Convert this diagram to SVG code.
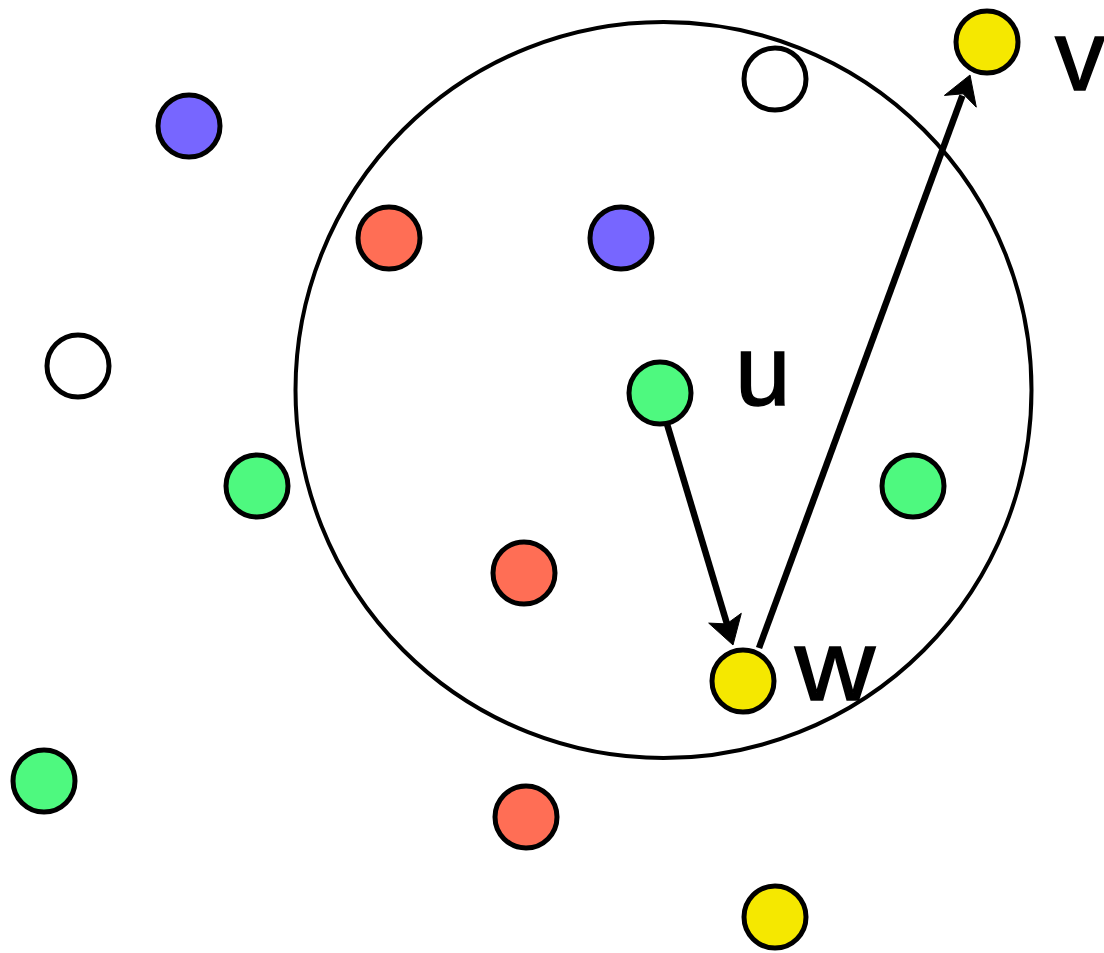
<svg xmlns="http://www.w3.org/2000/svg" width="1104" height="953" viewBox="0 0 1104 953">
<style>
.n{stroke:#000;stroke-width:5}
.g{fill:#4ef97f}.r{fill:#ff6e55}.p{fill:#7766ff}.y{fill:#f5e800}.w{fill:#fff}
.lbl{font-family:"Liberation Sans",Arial,sans-serif;font-size:100px;fill:#000;stroke:#000;stroke-width:1.5}
.e{stroke:#000;stroke-width:6.5;fill:none}
.ah{fill:#000;stroke:#000;stroke-width:1;stroke-linejoin:miter}
</style>
<rect width="1104" height="953" fill="#fff"/>
<circle cx="663.5" cy="390" r="368" fill="none" stroke="#000" stroke-width="4"/>
<g id="edges">
<line class="e" x1="667" y1="424" x2="727" y2="624"/>
<polygon class="ah" points="733,645 708.7,623.1 726.7,623.9 741.3,613.3"/>
<line class="e" x1="759" y1="648" x2="962.4" y2="95.6"/>
<polygon class="ah" points="970,75 976.3,107.2 963.1,93.8 944.4,95.4"/>
</g>
<g id="n1"><circle class="n p" cx="189" cy="126" r="31"/></g>
<g id="n2"><circle class="n w" cx="775" cy="79" r="31"/></g>
<g id="v"><circle class="n y" cx="987" cy="42" r="31"/><text class="lbl" x="1055" y="90">v</text></g>
<g id="n3"><circle class="n r" cx="389" cy="238" r="31"/></g>
<g id="n4"><circle class="n p" cx="621" cy="238" r="31"/></g>
<g id="n5"><circle class="n w" cx="78" cy="366" r="31"/></g>
<g id="u"><circle class="n g" cx="660" cy="393" r="31"/><text class="lbl" x="735" y="405">u</text></g>
<g id="n6"><circle class="n g" cx="257" cy="486" r="31"/></g>
<g id="n7"><circle class="n g" cx="913" cy="486" r="31"/></g>
<g id="n8"><circle class="n r" cx="524" cy="573" r="31"/></g>
<g id="w"><circle class="n y" cx="743" cy="681" r="31"/><text class="lbl" x="795" y="700" textLength="80" lengthAdjust="spacingAndGlyphs">w</text></g>
<g id="n9"><circle class="n g" cx="44" cy="781" r="31"/></g>
<g id="n10"><circle class="n r" cx="526" cy="817" r="31"/></g>
<g id="n11"><circle class="n y" cx="775" cy="917" r="31"/></g>
</svg>
